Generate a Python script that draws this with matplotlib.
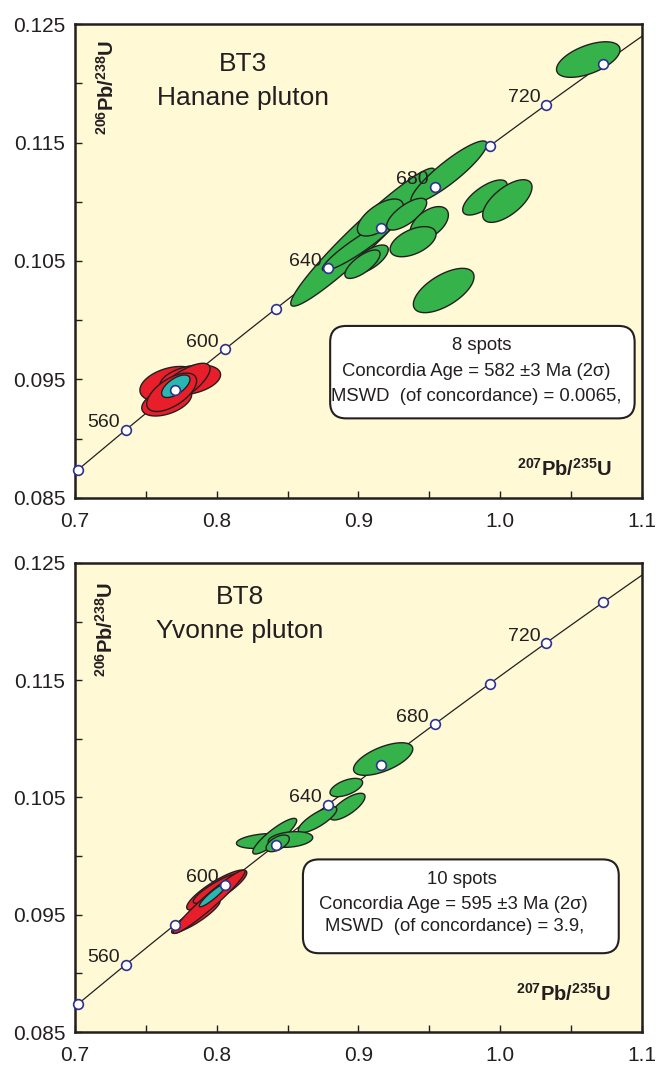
import numpy as np
import matplotlib
matplotlib.use("Agg")
import matplotlib.pyplot as plt
from matplotlib.patches import FancyBboxPatch

plt.rcParams['font.family'] = ['Liberation Sans', 'DejaVu Sans']
plt.rcParams['mathtext.fontset'] = 'custom'
plt.rcParams['mathtext.rm'] = 'Liberation Sans'
plt.rcParams['mathtext.bf'] = 'Liberation Sans:bold'

# decay constants (1/yr) for the concordia curve
LAMBDA_238 = 1.55125e-10
LAMBDA_235 = 9.8485e-10

# concordia age marks (Ma) and which ones get a label
marker_ages = [540, 560, 580, 600, 620, 640, 660, 680, 700, 720, 740]
label_ages = [560, 600, 640, 680, 720]

# ---- BT3 (Hanane pluton) ellipses: centre, half-extents, correlation ----
bt3_green_x = [0.9030, 0.9638, 0.8999, 0.9154, 0.9340, 0.9499, 0.9385, 0.9081, 0.9028,
               0.9892, 1.0050, 0.9601, 1.0621]
bt3_green_y = [0.10701, 0.11251, 0.10629, 0.10867, 0.10895, 0.10818, 0.10663, 0.10515, 0.10473,
               0.11036, 0.11006, 0.10251, 0.12200]
bt3_green_sx = [0.0508, 0.0268, 0.0254, 0.0162, 0.0141, 0.0135, 0.0162, 0.0129, 0.0124,
                0.0157, 0.0174, 0.0214, 0.0224]
bt3_green_sy = [0.00582, 0.00262, 0.00211, 0.00156, 0.00134, 0.00141, 0.00127, 0.00120, 0.00120,
                0.00148, 0.00180, 0.00187, 0.00150]
bt3_green_rho = [0.96, 0.90, 0.93, 0.62, 0.72, 0.50, 0.50, 0.68, 0.72, 0.70, 0.65, 0.62, 0.55]

bt3_red_x = [0.7670, 0.7813, 0.7647, 0.7753, 0.7682]
bt3_red_y = [0.09462, 0.09496, 0.09316, 0.09454, 0.09392]
bt3_red_sx = [0.0212, 0.0214, 0.0176, 0.0200, 0.0176]
bt3_red_sy = [0.00148, 0.00127, 0.00124, 0.00183, 0.00162]
bt3_red_rho = [0.35, 0.35, 0.45, 0.75, 0.60]

bt3_conc = (0.7711, 0.09443, 0.0100, 0.00095, 0.62)

# ---- BT8 (Yvonne pluton) ellipses ----
bt8_green_x = [0.9174, 0.8914, 0.8922, 0.8711, 0.8333, 0.8409, 0.8520, 0.8430]
bt8_green_y = [0.10828, 0.10585, 0.10422, 0.10311, 0.10129, 0.10170, 0.10142, 0.10109]
bt8_green_sx = [0.0209, 0.0115, 0.0124, 0.0136, 0.0194, 0.0155, 0.0157, 0.0082]
bt8_green_sy = [0.00139, 0.00078, 0.00114, 0.00111, 0.00064, 0.00152, 0.00067, 0.00071]
bt8_green_rho = [0.62, 0.55, 0.75, 0.80, 0.30, 0.88, 0.25, 0.55]

bt8_red_x = [0.8000, 0.8005, 0.7806, 0.7864, 0.7947]
bt8_red_y = [0.09711, 0.09726, 0.09455, 0.09491, 0.09611]
bt8_red_sx = [0.0212, 0.0171, 0.0124, 0.0159, 0.0253]
bt8_red_sy = [0.00171, 0.00128, 0.00114, 0.00135, 0.00270]
bt8_red_rho = [0.86, 0.88, 0.88, 0.90, 0.96]

bt8_conc = (0.7974, 0.09668, 0.0097, 0.00100, 0.92)

GREEN = '#35b24a'
RED = '#e81e2a'
CYAN = '#2bb7b1'
BG = '#fff9d6'
EDGE = '#231f20'


def ellipse(ax, x0, y0, sx, sy, rho, fc):
    t = np.linspace(0, 2 * np.pi, 240)
    xs = x0 + sx * np.cos(t)
    ys = y0 + sy * (rho * np.cos(t) + np.sqrt(1 - rho ** 2) * np.sin(t))
    ax.fill(xs, ys, fc=fc, ec=EDGE, lw=1.0, zorder=3)


def concordia(ax):
    t = np.linspace(530, 770, 400) * 1e6
    ax.plot(np.expm1(LAMBDA_235 * t), np.expm1(LAMBDA_238 * t), color=EDGE, lw=0.9, zorder=2)
    ages = np.array(marker_ages) * 1e6
    ax.plot(np.expm1(LAMBDA_235 * ages), np.expm1(LAMBDA_238 * ages), 'o', ms=7,
            mfc='white', mec='#2e3192', mew=1.2, zorder=6, clip_on=False)
    for a in label_ages:
        xa = np.expm1(LAMBDA_235 * a * 1e6)
        ya = np.expm1(LAMBDA_238 * a * 1e6)
        ax.annotate(str(a), (xa, ya), xytext=(-22, 7), textcoords='offset pixels',
                    ha='center', va='center', fontsize=14, color='#231f20', zorder=5)


def panel(ax, name, pluton, gx, gy, gsx, gsy, grho, rx, ry, rsx, rsy, rrho, conc,
          title_pos, ylab_pos, xlab_pos, box, lines):
    ax.set_facecolor(BG)
    ax.set_xlim(0.7, 1.1)
    ax.set_ylim(0.085, 0.125)
    concordia(ax)
    for i in range(len(gx)):
        ellipse(ax, gx[i], gy[i], gsx[i], gsy[i], grho[i], GREEN)
    for i in range(len(rx)):
        ellipse(ax, rx[i], ry[i], rsx[i], rsy[i], rrho[i], RED)
    ellipse(ax, *conc, CYAN)

    ax.set_xticks(np.arange(0.7, 1.101, 0.05))
    ax.set_xticklabels(['0.7', '', '0.8', '', '0.9', '', '1.0', '', '1.1'])
    ax.set_yticks(np.arange(0.085, 0.1251, 0.005))
    ax.set_yticklabels(['0.085', '', '0.095', '', '0.105', '', '0.115', '', '0.125'])
    ax.tick_params(direction='in', length=5, width=1, labelsize=15, color=EDGE,
                   labelcolor='#231f20')
    ax.tick_params(axis='x', pad=10)
    ax.tick_params(axis='y', pad=7)
    for s in ax.spines.values():
        s.set_linewidth(1.8)
        s.set_color(EDGE)

    ax.text(title_pos[0], title_pos[1], name, transform=ax.transAxes, fontsize=19,
            ha='center', va='center', color='#231f20')
    ax.text(title_pos[0], title_pos[2], pluton, transform=ax.transAxes, fontsize=19,
            ha='center', va='center', color='#231f20')
    ax.text(ylab_pos[0], ylab_pos[1], r'$\mathbf{^{206}Pb/^{238}U}$', transform=ax.transAxes,
            fontsize=14.5, rotation=90, ha='center', va='center', color='#231f20')
    ax.text(xlab_pos[0], xlab_pos[1], r'$\mathbf{^{207}Pb/^{235}U}$', transform=ax.transAxes,
            fontsize=14.5, ha='right', va='center', color='#231f20')

    bw, bh = box[1] - box[0], box[3] - box[2]
    aspect = ax.bbox.width / ax.bbox.height
    rr = 16 / ax.bbox.width
    ax.add_patch(FancyBboxPatch((box[0], box[2]), bw, bh, transform=ax.transAxes,
                                boxstyle=f'round,pad=0,rounding_size={rr}',
                                mutation_aspect=aspect, fc='white', ec=EDGE, lw=1.5, zorder=7))
    for (tx, ty, txt) in lines:
        ax.text(tx, ty, txt, transform=ax.transAxes, fontsize=13.3, ha='center', va='center',
                color='#231f20', zorder=8)


fig = plt.figure(figsize=(6.61, 10.67), dpi=100)
ax1 = fig.add_axes([75 / 661, 1 - 498 / 1067, 567 / 661, 474 / 1067])
ax2 = fig.add_axes([75 / 661, 1 - 1032 / 1067, 567 / 661, 469 / 1067])

panel(ax1, 'BT3', 'Hanane pluton',
      bt3_green_x, bt3_green_y, bt3_green_sx, bt3_green_sy, bt3_green_rho,
      bt3_red_x, bt3_red_y, bt3_red_sx, bt3_red_sy, bt3_red_rho, bt3_conc,
      (0.296, 0.916, 0.844), (0.057, 0.866), (0.947, 0.061),
      (0.450, 0.987, 0.168, 0.363),
      [(0.718, 0.321, '8 spots'),
       (0.707, 0.266, 'Concordia Age = 582 \u00b13 Ma (2\u03c3)'),
       (0.707, 0.215, 'MSWD  (of concordance) = 0.0065,')])

panel(ax2, 'BT8', 'Yvonne pluton',
      bt8_green_x, bt8_green_y, bt8_green_sx, bt8_green_sy, bt8_green_rho,
      bt8_red_x, bt8_red_y, bt8_red_sx, bt8_red_sy, bt8_red_rho, bt8_conc,
      (0.291, 0.928, 0.856), (0.055, 0.859), (0.945, 0.081),
      (0.402, 0.959, 0.168, 0.368),
      [(0.682, 0.326, '10 spots'),
       (0.668, 0.271, 'Concordia Age = 595 \u00b13 Ma (2\u03c3)'),
       (0.670, 0.224, 'MSWD  (of concordance) = 3.9,')])

fig.savefig('out.png', dpi=100)
